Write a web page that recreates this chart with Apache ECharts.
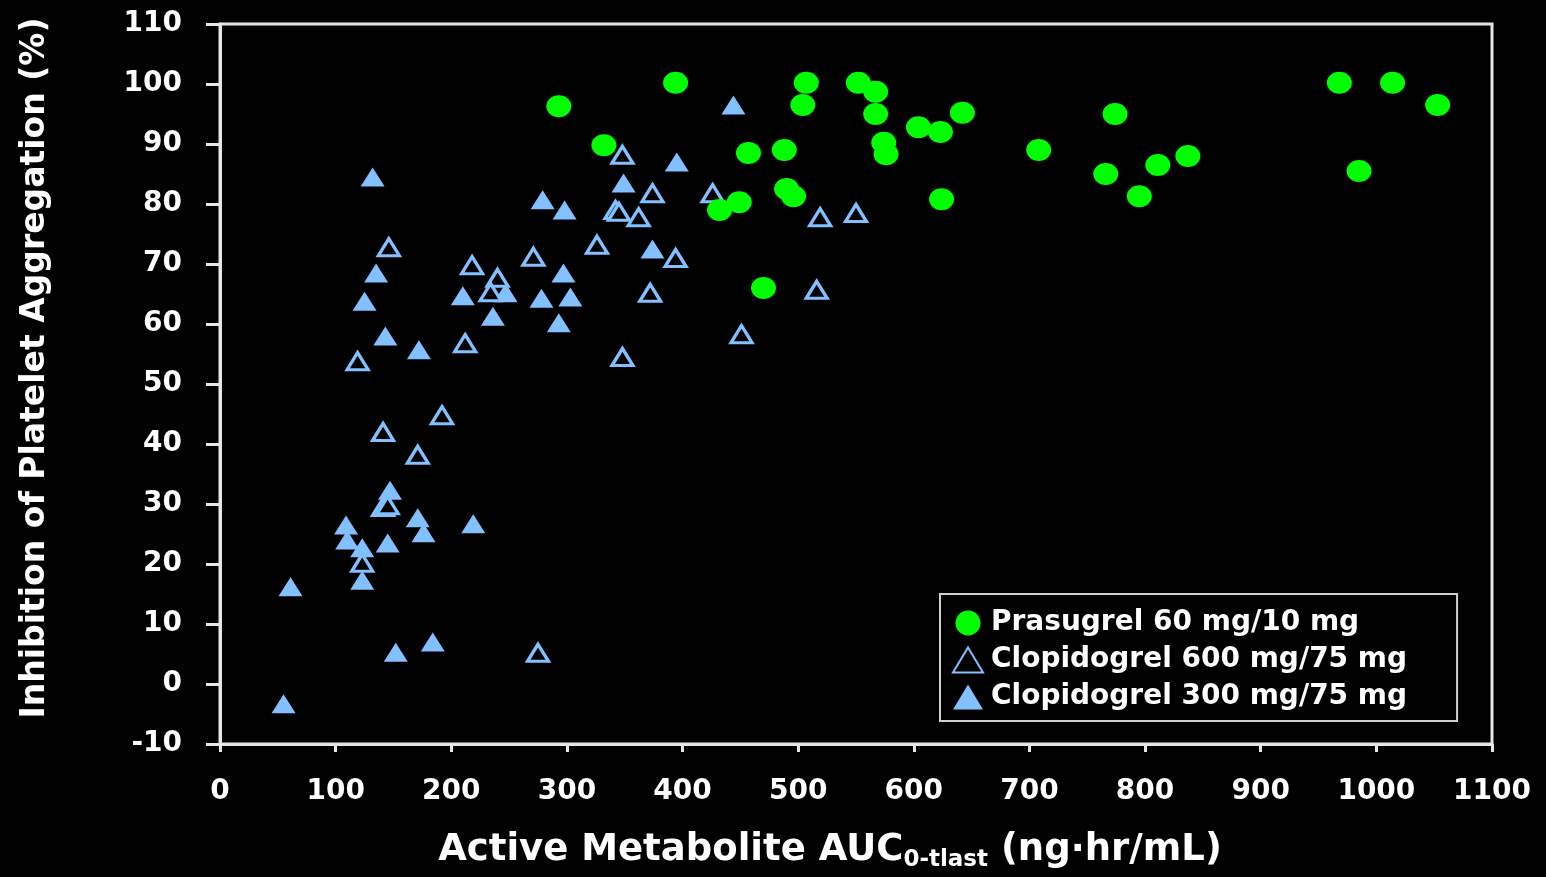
<!DOCTYPE html>
<html>
<head>
<meta charset="utf-8">
<title>IPA vs Active Metabolite AUC</title>
<script src="https://cdn.jsdelivr.net/npm/echarts@6/dist/echarts.min.js"></script>
<style>
  html, body { margin: 0; padding: 0; background: #000; }
  #chart { width: 1546px; height: 877px; }
</style>
</head>
<body>
<div id="chart"></div>
<script>
// Prasugrel 60 mg/10 mg  (green circles)
var prasugrelAuc = [293, 394, 332, 507, 504, 552, 567, 567, 574, 576, 457, 488, 490, 496, 449, 432, 470,
    604, 623, 642, 624, 708, 774, 766, 811, 837, 795, 968, 1014, 1053, 985];
var prasugrelIpa = [96.3, 100.2, 89.8, 100.2, 96.5, 100.2, 98.7, 95, 90.2, 88.3, 88.5, 89, 82.5, 81.3, 80.3, 79, 66,
    92.8, 92, 95.2, 80.8, 89, 95, 85, 86.5, 88, 81.3, 100.2, 100.2, 96.5, 85.5];

// Clopidogrel 600 mg/75 mg  (open triangles)
var clop600Auc = [348, 374, 426, 342, 345, 362, 326, 271, 394, 372, 451, 348, 519, 550, 516,
    146, 218, 240, 234, 212, 119, 192, 141, 171, 141, 145, 123, 275];
var clop600Ipa = [88.2, 81.8, 81.8, 79, 78.7, 77.8, 73.2, 71.2, 71, 65.2, 58.3, 54.5, 77.8, 78.5, 65.7,
    72.8, 69.8, 67.7, 65.3, 56.8, 53.8, 44.8, 42, 38.2, 29.5, 29.8, 20.2, 5.2];

// Clopidogrel 300 mg/75 mg  (filled triangles)
var clop300Auc = [132, 135, 125, 143, 172, 210, 236, 247, 444, 395, 349, 279, 298, 374, 297, 303, 278, 293,
    219, 109, 110, 123, 123, 147, 145, 171, 176, 61, 152, 184, 55];
var clop300Ipa = [84.5, 68.5, 63.8, 58, 55.7, 64.7, 61.3, 65.2, 96.5, 87, 83.5, 80.7, 79, 72.5, 68.5, 64.5, 64.3, 60.2,
    26.7, 26.5, 24, 22.7, 17.3, 32.3, 23.5, 27.7, 25.2, 16.2, 5.3, 7, -3.3];

var seriesNames = ['Prasugrel 60 mg/10 mg', 'Clopidogrel 600 mg/75 mg', 'Clopidogrel 300 mg/75 mg'];

function toPoints(xs, ys) {
    var pts = [];
    for (var i = 0; i < xs.length; i++) {
        pts.push([xs[i], ys[i]]);
    }
    return pts;
}

// plain integers, no thousands separator
function plainLabel(v) {
    return String(v);
}

var FONT = 'DejaVu Sans';
var BLUE = '#82c0ff';
var GREEN = '#00ff00';
var LINE = '#e6e6e6';

var option = {
    backgroundColor: '#000',
    animation: false,
    grid: {
        left: 220,
        top: 24,
        right: 54,
        bottom: 132,
        show: true,
        borderColor: LINE,
        borderWidth: 3
    },
    legend: {
        data: seriesNames,
        orient: 'vertical',
        left: 940,
        top: 594,
        padding: [15, 50, 10, 12],
        itemGap: 9,
        itemWidth: 30,
        itemHeight: 25,
        borderColor: '#d0d0d0',
        borderWidth: 2,
        backgroundColor: '#000',
        textStyle: {
            color: '#fff',
            fontFamily: FONT,
            fontWeight: 'bold',
            fontSize: 28,
            padding: [0, 0, 0, 3]
        }
    },
    xAxis: {
        type: 'value',
        min: 0,
        max: 1100,
        interval: 100,
        name: '{a|Active Metabolite AUC}{s|0-tlast}{a| (ng·hr/mL)}',
        nameLocation: 'middle',
        nameGap: 88,
        nameTextStyle: {
            padding: [0, 52, 0, 0],
            rich: {
                a: {
                    color: '#fff',
                    fontFamily: FONT,
                    fontWeight: 'bold',
                    fontSize: 37,
                    lineHeight: 40,
                    verticalAlign: 'top'
                },
                s: {
                    color: '#fff',
                    fontFamily: FONT,
                    fontWeight: 'bold',
                    fontSize: 23,
                    lineHeight: 22,
                    verticalAlign: 'bottom',
                    padding: [30, 0, 0, 0]
                }
            }
        },
        axisLine: { onZero: false, lineStyle: { color: LINE, width: 3 } },
        axisTick: { length: 8, lineStyle: { color: LINE, width: 3 } },
        axisLabel: {
            color: '#fff',
            fontFamily: FONT,
            fontWeight: 'bold',
            fontSize: 28,
            margin: 34,
            formatter: plainLabel
        },
        splitLine: { show: false }
    },
    yAxis: {
        type: 'value',
        min: -10,
        max: 110,
        interval: 10,
        name: 'Inhibition of Platelet Aggregation (%)',
        nameLocation: 'middle',
        nameRotate: 90,
        nameGap: 168,
        nameTextStyle: {
            color: '#fff',
            fontFamily: FONT,
            fontWeight: 'bold',
            fontSize: 33,
            padding: [0, 0, 0, 32]
        },
        axisLine: { lineStyle: { color: LINE, width: 3 } },
        axisTick: { length: 14, lineStyle: { color: LINE, width: 3 } },
        axisLabel: {
            color: '#fff',
            fontFamily: FONT,
            fontWeight: 'bold',
            fontSize: 28,
            margin: 38,
            formatter: plainLabel
        },
        splitLine: { show: false }
    },
    series: [{
        name: seriesNames[2],
        type: 'scatter',
        symbol: 'triangle',
        symbolSize: [24, 19],
        itemStyle: { color: BLUE, opacity: 1 },
        data: toPoints(clop300Auc, clop300Ipa)
    }, {
        name: seriesNames[1],
        type: 'scatter',
        symbol: 'triangle',
        symbolSize: [21, 17],
        itemStyle: { color: '#000', borderColor: BLUE, borderWidth: 3.2, opacity: 1 },
        data: toPoints(clop600Auc, clop600Ipa)
    }, {
        name: seriesNames[0],
        type: 'scatter',
        symbol: 'circle',
        symbolSize: [25, 22],
        itemStyle: { color: GREEN, opacity: 1 },
        data: toPoints(prasugrelAuc, prasugrelIpa)
    }]
};

var chart = echarts.init(document.getElementById('chart'));
chart.setOption(option);
</script>
</body>
</html>
